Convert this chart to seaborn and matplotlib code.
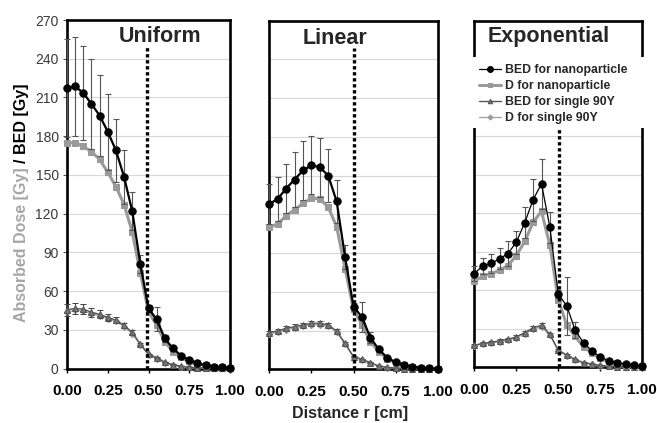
import matplotlib
matplotlib.use("Agg")
import matplotlib.pyplot as plt
import seaborn as sns
import pandas as pd
from matplotlib.patches import Rectangle

# ---------------- data ----------------
r = [0.00, 0.05, 0.10, 0.15, 0.20, 0.25, 0.30, 0.35, 0.40, 0.45, 0.50,
     0.55, 0.60, 0.65, 0.70, 0.75, 0.80, 0.85, 0.90, 0.95, 1.00]
panel_titles = ["Uniform", "Linear", "Exponential"]
series_names = ["BED for nanoparticle", "D for nanoparticle",
                "BED for single 90Y", "D for single 90Y"]
xtick_labels = ["0.00", "0.25", "0.50", "0.75", "1.00"]
ytick_values = [0, 30, 60, 90, 120, 150, 180, 210, 240, 270]

# Uniform
bed_nano_u = [217.5, 218.5, 213.5, 205, 196, 183.5, 169, 148.5, 122, 81, 46.5,
              38, 23.3, 15.5, 10, 6.5, 4, 2.5, 1.5, 1, 0.5]
bed_nano_u_err = [38, 38, 36.5, 35, 31.5, 29.5, 24.5, 21, 15, 7, 3,
                  9.3, 2.5, 1.5, 1, 0.6, 0.4, 0.3, 0.2, 0.1, 0.1]
d_nano_u = [174.5, 175, 172, 168, 162, 152, 141, 127, 106, 74, 44,
            33.5, 20.7, 13, 9, 5.7, 3.9, 2.5, 1.5, 1, 0.5]
bed_single_u = [45.5, 46.5, 46, 43.6, 42, 39.6, 37.5, 33.5, 28, 19, 11,
                8.5, 5, 3, 1.8, 1, 0.6, 0.3, 0.2, 0.1, 0.05]
bed_single_u_err = [4.5, 4.5, 4, 3.5, 3, 2.8, 2.5, 2, 1.5, 1, 0.6,
                    0.4, 0.3, 0.2, 0.1, 0.1, 0.05, 0.05, 0, 0, 0]
d_single_u = [44, 45, 44.5, 42.5, 41, 38.7, 36.5, 32.5, 27, 18.3, 10.5,
              7.5, 4.3, 2.5, 1.5, 0.8, 0.5, 0.2, 0.1, 0.05, 0]

# Linear
bed_nano_l = [128, 132, 140, 147, 154, 158, 156.5, 150, 130, 87, 48.5,
              40.5, 24.5, 15.5, 9, 5.4, 3.4, 2, 1.2, 0.8, 0.5]
bed_nano_l_err = [15.5, 17, 19, 21, 22.5, 22.5, 23, 20.5, 16.5, 9, 3,
                  11.4, 4.5, 1.5, 1, 0.5, 0.3, 0.2, 0.1, 0.1, 0.05]
d_nano_l = [110, 112.5, 119, 123.5, 128.5, 132.5, 132, 125.5, 110.5, 78, 46.5,
            34.5, 21.5, 13.7, 8, 5.2, 3.2, 2, 1.2, 0.8, 0.5]
bed_single_l = [28.5, 29.7, 31.8, 33, 34.4, 35.7, 35.7, 34.4, 29.7, 20.2, 9.8,
                7.8, 5.2, 2.6, 1.5, 1, 0.6, 0.3, 0.2, 0.1, 0.05]
bed_single_l_err = [1.5, 1.5, 1.6, 1.7, 1.8, 1.8, 1.8, 1.7, 1.5, 1, 0.5,
                    0.4, 0.3, 0.1, 0.1, 0.05, 0, 0, 0, 0, 0]
d_single_l = [27.5, 28.8, 30.8, 32, 33.4, 34.6, 34.6, 33.3, 28.7, 19.4, 9.4,
              7.2, 4.6, 2.3, 1.3, 0.8, 0.5, 0.2, 0.1, 0.05, 0]

# Exponential
bed_nano_e = [73, 79, 81, 84.5, 88.5, 97.5, 112.5, 130.5, 143, 109, 57,
              48, 29, 19, 13, 7.8, 5.2, 3.6, 2.5, 1.5, 1]
bed_nano_e_err = [5.7, 6.2, 7.5, 8.3, 9.6, 9, 12, 16.3, 19.4, 12.2, 3,
                  22.7, 6, 2, 1.2, 0.8, 0.5, 0.3, 0.2, 0.1, 0.1]
d_nano_e = [67, 71, 73, 75.5, 79.3, 87, 98, 113, 121.5, 95, 52.7,
            33, 24, 16, 11.4, 7, 4.4, 3, 2, 1.2, 0.8]
bed_single_e = [17.3, 18.6, 19.4, 20.7, 21.7, 23.8, 27, 30.7, 32.8, 25.8, 13.4,
                9.6, 6.2, 3.6, 2.6, 1.5, 1, 0.6, 0.3, 0.2, 0.1]
bed_single_e_err = [1, 1, 1, 1.1, 1.1, 1.2, 1.3, 1.5, 1.6, 1.3, 0.7,
                    0.5, 0.3, 0.2, 0.1, 0.1, 0, 0, 0, 0, 0]
d_single_e = [16.8, 18, 18.8, 20, 21, 23, 26, 29.6, 31.6, 24.8, 12.8,
              9.1, 5.8, 3.3, 2.3, 1.3, 0.8, 0.5, 0.2, 0.1, 0.05]

boundary = [0.49, 0.505, 0.505]

panels = [
    dict(bed_nano=bed_nano_u, bed_nano_err=bed_nano_u_err, d_nano=d_nano_u,
         bed_single=bed_single_u, bed_single_err=bed_single_u_err, d_single=d_single_u),
    dict(bed_nano=bed_nano_l, bed_nano_err=bed_nano_l_err, d_nano=d_nano_l,
         bed_single=bed_single_l, bed_single_err=bed_single_l_err, d_single=d_single_l),
    dict(bed_nano=bed_nano_e, bed_nano_err=bed_nano_e_err, d_nano=d_nano_e,
         bed_single=bed_single_e, bed_single_err=bed_single_e_err, d_single=d_single_e),
]

# ---------------- style ----------------
sns.set_theme(style="white")
plt.rcParams['font.family'] = ['Liberation Sans', 'DejaVu Sans']

W, H = 657, 423
fig = plt.figure(figsize=(W / 100, H / 100), dpi=100)

# axes boxes in pixels: left, top, right, bottom
boxes_px = [(67, 20, 230, 368.5), (269.3, 20.7, 437.7, 369.3), (474.3, 20.7, 642.3, 367.3)]
title_pos = [(0.57, 0.953), (0.39, 0.950), (0.44, 0.954)]
dotted_top = [249, 249, 187]
black_lw = [1.6, 1.6, 0.9]

axes = []
for i, (l, t, rr, b) in enumerate(boxes_px):
    ax = fig.add_axes([l / W, (H - b) / H, (rr - l) / W, (b - t) / H])
    axes.append(ax)
    p = panels[i]
    df = pd.DataFrame({"r": r, **{k: p[k] for k in ["bed_nano", "d_nano", "bed_single", "d_single"]}})

    # D for single 90Y
    sns.lineplot(data=df, x="r", y="d_single", ax=ax, color="#a0a0a0", marker="D",
                 markersize=3.2, markeredgecolor="#999999", linewidth=0.9, zorder=3)
    h_ds = ax.get_lines()[-1]
    # BED for single 90Y
    eb = ax.errorbar(r, p["bed_single"], yerr=p["bed_single_err"], fmt="none",
                     ecolor="#444444", elinewidth=0.7, capsize=2, capthick=0.7, zorder=3.5)
    for part in [*eb[1], *eb[2]]:
        part.set_clip_on(False)
    sns.lineplot(data=df, x="r", y="bed_single", ax=ax, color="#555555", marker="^",
                 markersize=4, markeredgecolor="#555555", markerfacecolor="#777777",
                 linewidth=1.0, zorder=4)
    h_bs = ax.get_lines()[-1]
    # D for nanoparticle
    sns.lineplot(data=df, x="r", y="d_nano", ax=ax, color="#9a9a9a", marker="s",
                 markersize=4.2, markeredgecolor="#9a9a9a", linewidth=2.2, zorder=5)
    h_dn = ax.get_lines()[-1]
    # BED for nanoparticle
    eb = ax.errorbar(r, p["bed_nano"], yerr=p["bed_nano_err"], fmt="none",
                     ecolor="#555555", elinewidth=0.8, capsize=2.5, capthick=0.8, zorder=5.5)
    for part in [*eb[1], *eb[2]]:
        part.set_clip_on(False)
    sns.lineplot(data=df, x="r", y="bed_nano", ax=ax, color="black", marker="o",
                 markersize=5.3, markeredgecolor="black", linewidth=black_lw[i], zorder=6)
    h_bn = ax.get_lines()[-1]

    for ln in ax.get_lines():
        ln.set_clip_on(False)

    # tumour boundary
    ax.plot([boundary[i], boundary[i]], [0, dotted_top[i]], color="black",
            linestyle=(0, (1, 0.8)), linewidth=2.4, zorder=7, clip_on=False)

    ax.set_xlim(0, 1)
    ax.set_ylim(0, 270)
    ax.set_xticks([0, 0.25, 0.5, 0.75, 1.0])
    ax.set_xticklabels(xtick_labels, fontsize=11, fontweight="bold", color="black")
    ax.set_yticks(ytick_values)
    ax.yaxis.grid(True, color="#d8d8d8", linewidth=0.8)
    ax.xaxis.grid(False)
    ax.set_axisbelow(True)
    ax.set_xlabel("")
    ax.set_ylabel("")
    ax.tick_params(axis="x", bottom=True, direction="out", length=3, width=1,
                   color="black", pad=8)
    if i == 0:
        ax.set_yticklabels([str(v) for v in ytick_values], fontsize=10, color="#3a3a3a")
        ax.tick_params(axis="y", left=True, direction="out", length=3, width=0.8,
                       color="#555555", pad=3)
    else:
        ax.tick_params(axis="y", left=False, labelleft=False)
    for s in ax.spines.values():
        s.set_color("black")
        s.set_linewidth(1.9)
        s.set_visible(True)

    ax.text(title_pos[i][0], title_pos[i][1], panel_titles[i], transform=ax.transAxes,
            ha="center", va="center", fontsize=15.5, fontweight="bold", zorder=8)

    if i == 2:
        ax.add_patch(Rectangle((-0.04, 0.69), 1.09, 0.205, transform=ax.transAxes,
                               facecolor="white", edgecolor="none", zorder=9, clip_on=False))
        leg = ax.legend([h_bn, h_dn, h_bs, h_ds], series_names, loc="upper left",
                        bbox_to_anchor=(0.03, 0.874), frameon=False,
                        prop={"weight": "bold", "size": 8.8}, handlelength=1.8,
                        handletextpad=0.3, labelspacing=0.32, borderpad=0,
                        borderaxespad=0, markerscale=0.8)
        leg.set_zorder(10)
    else:
        if ax.get_legend() is not None:
            ax.get_legend().remove()

# axis labels
fig.text(350 / W, (H - 413) / H, "Distance r [cm]", ha="center", va="center",
         fontsize=11.5, fontweight="bold")
t1 = fig.text(22 / W, (H - 322) / H, "Absorbed Dose [Gy]", rotation=90, ha="center",
              va="bottom", color="#a6a6a6", fontsize=11.5, fontweight="bold")
fig.canvas.draw()
bb = t1.get_window_extent()
top_frac = (bb.y1 + 4) / H
fig.text(22 / W, top_frac, "/ BED [Gy]", rotation=90, ha="center", va="bottom",
         color="black", fontsize=11.5, fontweight="bold")

fig.savefig("out.png", dpi=100)
